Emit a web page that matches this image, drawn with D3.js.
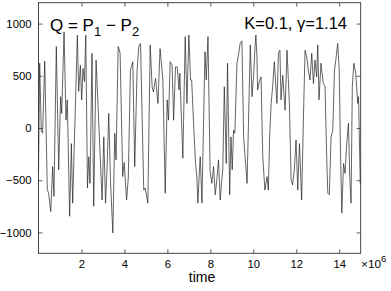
<!DOCTYPE html>
<html>
<head>
<meta charset="utf-8">
<script src="https://cdn.jsdelivr.net/npm/d3@7"></script>
<style>
  body { margin: 0; background: #fff; }
  svg { display: block; font-family: "Liberation Sans", Arial, sans-serif; }
</style>
</head>
<body>
<div id="chart"></div>
<script>
// time (x 10^6) and Q = P1 - P2
const time = [
  0.00, 0.055, 0.13, 0.19, 0.29, 0.41, 0.47, 0.57, 0.66, 0.72, 0.83, 0.94, 1.03, 1.08, 1.19, 1.28, 1.34, 1.45, 1.53, 1.59,
  1.81, 1.87, 1.95, 2.01, 2.07, 2.14, 2.20, 2.28, 2.34, 2.40, 2.49, 2.57, 2.68, 2.96, 3.04, 3.12, 3.19, 3.27, 3.35, 3.46,
  3.55, 3.61, 3.71, 3.80, 3.92, 3.99, 4.10, 4.18, 4.28, 4.39, 4.48, 4.59, 4.67, 4.75, 4.90, 4.97, 5.01, 5.09, 5.20, 5.29,
  5.35, 5.45, 5.56, 5.66, 5.79, 5.90, 5.99, 6.05, 6.13, 6.22, 6.29, 6.38, 6.46, 6.54, 6.58, 6.72, 6.83, 6.91, 7.00, 7.08,
  7.13, 7.22, 7.31, 7.37, 7.42, 7.50, 7.53, 7.61, 7.75, 7.81, 7.89, 7.99, 8.07, 8.15, 8.23, 8.31, 8.38, 8.46, 8.54, 8.58,
  8.65, 8.74, 8.80, 8.90, 8.96, 9.02, 9.08, 9.14, 9.24, 9.32, 9.39, 9.47, 9.55, 9.71, 9.86, 9.94, 10.02, 10.08, 10.12, 10.17,
  10.20, 10.28, 10.36, 10.44, 10.54, 10.64, 10.70, 10.76, 10.83, 10.90, 10.98, 11.10, 11.17, 11.24, 11.29, 11.37, 11.48, 11.57, 11.68, 11.76,
  11.83, 11.91, 11.99, 12.07, 12.15, 12.25, 12.35, 12.41, 12.50, 12.56, 12.64, 12.72, 12.80, 12.87, 12.95, 13.00, 13.06, 13.15, 13.26, 13.34,
  13.42, 13.47, 13.54, 13.62, 13.70, 13.78, 13.84, 13.93, 14.00, 14.06, 14.12, 14.20, 14.27, 14.35, 14.43, 14.49, 14.55, 14.61, 14.68, 14.77,
  14.86, 14.90, 14.98
];
const q = [
  -430, 620, -30, -50, 640, -590, -625, -800, -370, -655, 780, -400, 300, 140, 920, 75, 270, -845, -150, -720,
  890, 350, 600, 270, 570, 445, 890, -575, -275, -530, 715, -750, 650, -690, -85, -720, -400, 140, -500, -1005,
  -50, -305, 780, 715, -465, -330, -690, -480, 555, 635, -370, 555, 780, 810, -595, -575, -625, -720, 795, 395,
  345, 475, 235, 760, 460, -625, 270, 75, 635, 600, 75, 585, 585, 365, 525, -290, 875, 235, 890, 460,
  460, 45, -340, -465, -720, -370, -275, -720, 730, 460, 875, -420, -530, -370, -640, -480, -305, -690, -480, -400,
  395, -340, 620, -640, -85, -400, -20, -50, 620, 715, 810, 835, -85, -530, 795, 300, 525, 780, 890, 680,
  365, 445, 490, -275, -595, -465, -595, -85, 235, 395, 635, 235, 715, 745, 270, 505, 170, 745, 235, -495,
  -545, -400, -115, -595, -150, -690, 235, 745, 665, 555, 460, 715, 425, 650, 490, 795, 270, 620, 425, 395,
  -305, -625, -640, -85, -20, 555, 650, 810, 555, -240, -815, -340, -435, -150, 45, -465, -720, 395, 620, 525,
  235, 300, -540
];
const xTicks = [2, 4, 6, 8, 10, 12, 14];
const yTicks = [-1000, -500, 0, 500, 1000];

const W = 391, H = 291;
const margin = { top: 2.7, right: 30.3, bottom: 37.7, left: 38.5 };
const width = W - margin.left - margin.right;
const height = H - margin.top - margin.bottom;

const svg = d3.select('#chart').append('svg')
  .attr('width', W)
  .attr('height', H);

const g = svg.append('g')
  .attr('transform', `translate(${margin.left},${margin.top})`);

const x = d3.scaleLinear().domain([0, 15]).range([0, width]);
const y = d3.scaleLinear().domain([-1200, 1200]).range([height, 0]);

// Line
const series = time.map((t, i) => ({ t, v: q[i] }));
g.append('path')
  .datum(series)
  .attr('fill', 'none')
  .attr('stroke', '#222')
  .attr('stroke-width', 0.7)
  .attr('d', d3.line().x(d => x(d.t)).y(d => y(d.v)));

// Axes, MATLAB style: ticks inward on all four sides
const tickLen = 4;
const axisStyle = sel => {
  sel.select('.domain').remove();
  sel.selectAll('line').attr('stroke', '#333').attr('stroke-width', 0.8);
  sel.selectAll('text').style('font-size', '11.3px').attr('fill', '#000');
};

g.append('g')
  .attr('transform', `translate(0,${height})`)
  .call(d3.axisBottom(x).tickValues(xTicks).tickSizeInner(-tickLen).tickPadding(7).tickFormat(d3.format('d')))
  .call(axisStyle);

g.append('g')
  .call(d3.axisTop(x).tickValues(xTicks).tickSizeInner(-tickLen).tickFormat(''))
  .call(axisStyle);

g.append('g')
  .call(d3.axisLeft(y).tickValues(yTicks).tickSizeInner(-tickLen).tickPadding(7).tickFormat(d => d < 0 ? '\u2212' + Math.abs(d) : d))
  .call(axisStyle);

g.append('g')
  .attr('transform', `translate(${width},0)`)
  .call(d3.axisRight(y).tickValues(yTicks).tickSizeInner(-tickLen).tickFormat(''))
  .call(axisStyle);

// Box
g.append('rect')
  .attr('width', width)
  .attr('height', height)
  .attr('fill', 'none')
  .attr('stroke', '#333')
  .attr('stroke-width', 0.9);

// Annotations
const title = svg.append('text')
  .attr('x', 50)
  .attr('y', 30.7)
  .style('font-size', '17px');
title.append('tspan').text('Q = P');
title.append('tspan').attr('dy', 5).style('font-size', '13px').text('1');
title.append('tspan').attr('dy', -5).text(' \u2212 P');
title.append('tspan').attr('dy', 5).style('font-size', '13px').text('2');

svg.append('text')
  .attr('x', 347)
  .attr('y', 29.3)
  .attr('text-anchor', 'end')
  .style('font-size', '16.5px')
  .text('K=0.1, \u03b3=1.14');

svg.append('text')
  .attr('x', 202)
  .attr('y', 282)
  .attr('text-anchor', 'middle')
  .style('font-size', '14px')
  .text('time');

const exp = svg.append('text')
  .attr('x', 361)
  .attr('y', 268.3)
  .style('font-size', '11.8px');
exp.append('tspan').text('\u00d710');
exp.append('tspan').attr('dy', -6).style('font-size', '9.5px').text('6');
</script>
</body>
</html>
